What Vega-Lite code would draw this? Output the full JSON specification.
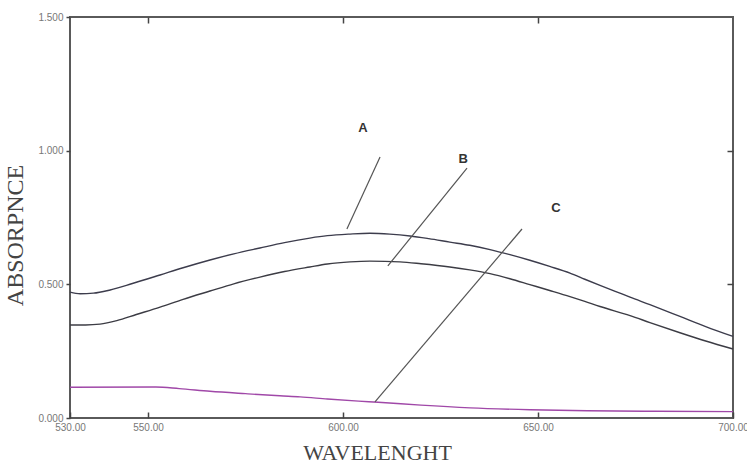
{
  "$schema": "https://vega.github.io/schema/vega-lite/v6.json",
  "autosize": "none",
  "width": 663,
  "height": 401,
  "padding": {"left": 70, "top": 17, "right": 14, "bottom": 49},
  "background": "white",
  "config": {
    "view": {"stroke": "#5a5a5a", "strokeWidth": 2},
    "axis": {"grid": false, "domain": false, "labelFont": "Liberation Sans", "labelFontSize": 10, "labelColor": "#777777", "tickColor": "#444444", "tickWidth": 1.5, "titleFont": "Liberation Serif", "titleFontWeight": "normal", "titleColor": "#444444", "titleFontSize": 22}
  },
  "datasets": {
    "curves": [
      {"series": "A", "wl": 530, "abs": 0.471},
      {"series": "A", "wl": 532.6, "abs": 0.465},
      {"series": "A", "wl": 536, "abs": 0.467},
      {"series": "A", "wl": 540.3, "abs": 0.479},
      {"series": "A", "wl": 546, "abs": 0.503},
      {"series": "A", "wl": 553.1, "abs": 0.535},
      {"series": "A", "wl": 559, "abs": 0.562},
      {"series": "A", "wl": 565.9, "abs": 0.591},
      {"series": "A", "wl": 572, "abs": 0.614},
      {"series": "A", "wl": 578.7, "abs": 0.636},
      {"series": "A", "wl": 585, "abs": 0.656},
      {"series": "A", "wl": 591.5, "abs": 0.673},
      {"series": "A", "wl": 596, "abs": 0.682},
      {"series": "A", "wl": 601.8, "abs": 0.688},
      {"series": "A", "wl": 606.9, "abs": 0.691},
      {"series": "A", "wl": 612, "abs": 0.688},
      {"series": "A", "wl": 617.2, "abs": 0.681},
      {"series": "A", "wl": 622, "abs": 0.671},
      {"series": "A", "wl": 627.4, "abs": 0.658},
      {"series": "A", "wl": 632.5, "abs": 0.646},
      {"series": "A", "wl": 637.7, "abs": 0.630},
      {"series": "A", "wl": 642.8, "abs": 0.611},
      {"series": "A", "wl": 647.9, "abs": 0.590},
      {"series": "A", "wl": 653, "abs": 0.567},
      {"series": "A", "wl": 658.2, "abs": 0.542},
      {"series": "A", "wl": 662, "abs": 0.519},
      {"series": "A", "wl": 665.9, "abs": 0.496},
      {"series": "A", "wl": 669.8, "abs": 0.474},
      {"series": "A", "wl": 673.6, "abs": 0.452},
      {"series": "A", "wl": 678.7, "abs": 0.424},
      {"series": "A", "wl": 686.4, "abs": 0.380},
      {"series": "A", "wl": 693, "abs": 0.342},
      {"series": "A", "wl": 700, "abs": 0.305},
      {"series": "B", "wl": 530, "abs": 0.348},
      {"series": "B", "wl": 534, "abs": 0.348},
      {"series": "B", "wl": 537.7, "abs": 0.351},
      {"series": "B", "wl": 542, "abs": 0.364},
      {"series": "B", "wl": 547, "abs": 0.387},
      {"series": "B", "wl": 553.1, "abs": 0.415},
      {"series": "B", "wl": 559, "abs": 0.444},
      {"series": "B", "wl": 565.9, "abs": 0.475},
      {"series": "B", "wl": 572, "abs": 0.502},
      {"series": "B", "wl": 578.7, "abs": 0.527},
      {"series": "B", "wl": 585, "abs": 0.548},
      {"series": "B", "wl": 591.5, "abs": 0.565},
      {"series": "B", "wl": 596, "abs": 0.576},
      {"series": "B", "wl": 601.8, "abs": 0.584},
      {"series": "B", "wl": 606.9, "abs": 0.587},
      {"series": "B", "wl": 614.6, "abs": 0.584},
      {"series": "B", "wl": 620, "abs": 0.577},
      {"series": "B", "wl": 627.4, "abs": 0.565},
      {"series": "B", "wl": 632.5, "abs": 0.554},
      {"series": "B", "wl": 637.7, "abs": 0.540},
      {"series": "B", "wl": 642.8, "abs": 0.521},
      {"series": "B", "wl": 647.9, "abs": 0.499},
      {"series": "B", "wl": 653, "abs": 0.477},
      {"series": "B", "wl": 658.2, "abs": 0.454},
      {"series": "B", "wl": 662, "abs": 0.436},
      {"series": "B", "wl": 665.9, "abs": 0.417},
      {"series": "B", "wl": 673.6, "abs": 0.383},
      {"series": "B", "wl": 678.7, "abs": 0.357},
      {"series": "B", "wl": 686.4, "abs": 0.319},
      {"series": "B", "wl": 693, "abs": 0.288},
      {"series": "B", "wl": 700, "abs": 0.258},
      {"series": "C", "wl": 530, "abs": 0.115},
      {"series": "C", "wl": 552, "abs": 0.116},
      {"series": "C", "wl": 558, "abs": 0.110},
      {"series": "C", "wl": 565.9, "abs": 0.100},
      {"series": "C", "wl": 575, "abs": 0.091},
      {"series": "C", "wl": 583.8, "abs": 0.083},
      {"series": "C", "wl": 589, "abs": 0.079},
      {"series": "C", "wl": 596, "abs": 0.071},
      {"series": "C", "wl": 604, "abs": 0.063},
      {"series": "C", "wl": 609, "abs": 0.059},
      {"series": "C", "wl": 620, "abs": 0.048},
      {"series": "C", "wl": 632.6, "abs": 0.038},
      {"series": "C", "wl": 648, "abs": 0.031},
      {"series": "C", "wl": 662.6, "abs": 0.027},
      {"series": "C", "wl": 680, "abs": 0.025},
      {"series": "C", "wl": 700, "abs": 0.024}
    ],
    "leaders": [
      {"series": "A", "x1": 601.0, "y1": 0.707, "x2": 609.5, "y2": 0.976},
      {"series": "B", "x1": 611.5, "y1": 0.569, "x2": 631.8, "y2": 0.935},
      {"series": "C", "x1": 608.2, "y1": 0.060, "x2": 645.9, "y2": 0.707}
    ],
    "labels": [
      {"label": "A", "x": 605.1, "y": 1.085},
      {"label": "B", "x": 630.8, "y": 0.969},
      {"label": "C", "x": 654.6, "y": 0.786}
    ]
  },
  "resolve": {"axis": {"x": "independent", "y": "independent"}},
  "layer": [
    {
      "data": {"name": "curves"},
      "mark": {"type": "line", "strokeWidth": 1.4, "interpolate": "monotone"},
      "encoding": {
        "x": {"field": "wl", "type": "quantitative", "scale": {"domain": [530, 700], "nice": false, "zero": false},
          "axis": {"orient": "bottom", "title": "WAVELENGHT", "values": [530, 550, 600, 650, 700], "format": ".2f", "tickSize": -6, "labelPadding": 10, "titlePadding": 10, "titleX": 307, "labelFlush": false}},
        "y": {"field": "abs", "type": "quantitative", "scale": {"domain": [0, 1.5], "nice": false},
          "axis": {"orient": "left", "title": "ABSORPNCE", "titleFontSize": 24, "titleY": 218, "values": [0, 0.5, 1, 1.5], "format": ".3f", "tickSize": 4, "labelPadding": 3, "titlePadding": 10}},
        "color": {"field": "series", "type": "nominal", "legend": null,
          "scale": {"domain": ["A", "B", "C"], "range": ["#3c3c4c", "#3c3c44", "#a048a8"]}},
        "detail": {"field": "series"}
      }
    },
    {
      "data": {"name": "leaders"},
      "mark": {"type": "rule", "stroke": "#555555", "strokeWidth": 1.2},
      "encoding": {
        "x": {"field": "x1", "type": "quantitative", "axis": {"orient": "top", "title": null, "labels": false, "values": [550, 600, 650], "tickSize": -6}},
        "y": {"field": "y1", "type": "quantitative", "axis": {"orient": "right", "title": null, "labels": false, "values": [0.5, 1], "tickSize": -6}},
        "x2": {"field": "x2"},
        "y2": {"field": "y2"}
      }
    },
    {
      "data": {"name": "labels"},
      "mark": {"type": "text", "font": "Liberation Sans", "fontWeight": "bold", "fontSize": 13, "color": "#333333"},
      "encoding": {
        "x": {"field": "x", "type": "quantitative", "axis": null},
        "y": {"field": "y", "type": "quantitative", "axis": null},
        "text": {"field": "label"}
      }
    }
  ]
}
